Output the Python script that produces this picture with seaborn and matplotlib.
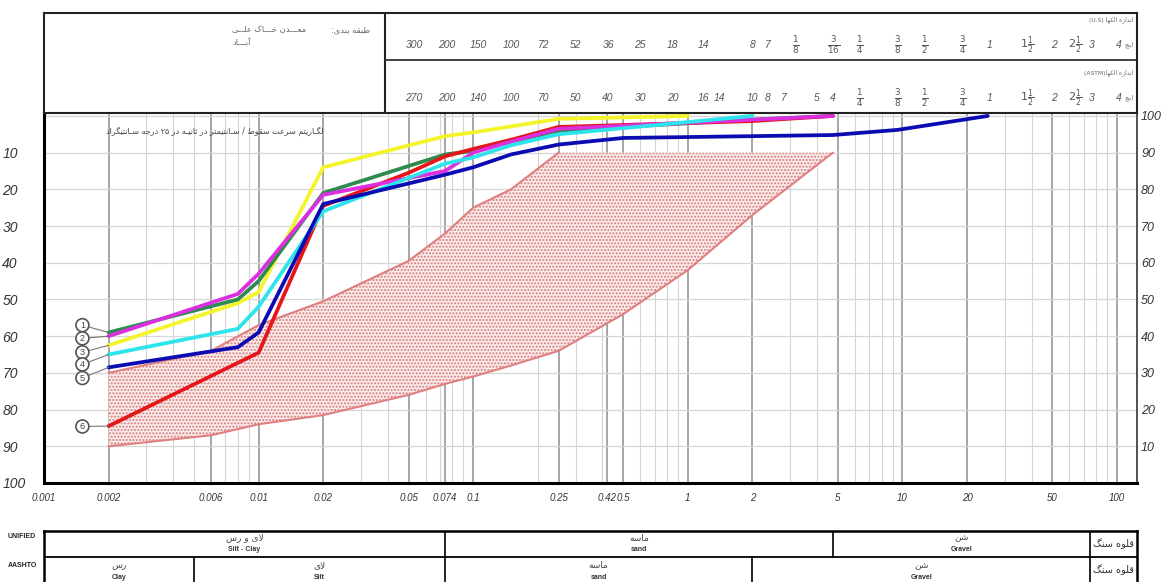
import re
import numpy as np
import pandas as pd
import matplotlib
matplotlib.use('Agg')
import matplotlib.pyplot as plt
from matplotlib.ticker import LogLocator, NullFormatter, NullLocator
import seaborn as sns

# ---------------- data ----------------
sample_ids = ['1', '2', '3', '4', '5', '6']
sample_colors = ['#2e8b4e', '#dc2fe0', '#f4f42a', '#2ee4ec', '#0b0bb2', '#e3161a']

# grain size (mm) / percent passing for each sample
s1_size = [0.002, 0.008, 0.01, 0.02, 0.074, 0.1, 0.15, 0.25, 2.0, 4.75]
s1_pass = [41, 50, 55, 79, 89.5, 90.5, 93, 96, 99, 100]
s2_size = [0.002, 0.008, 0.01, 0.02, 0.074, 0.1, 0.15, 0.25, 4.75]
s2_pass = [40, 51.5, 57, 78.5, 85, 90, 93, 96.5, 100]
s3_size = [0.002, 0.008, 0.01, 0.02, 0.074, 0.1, 0.25, 1.0]
s3_pass = [37.5, 49, 52, 86, 94.5, 95.5, 99.2, 100]
s4_size = [0.002, 0.008, 0.01, 0.02, 0.074, 0.1, 0.15, 0.25, 2.0]
s4_pass = [35, 42, 48, 74, 87, 88.7, 92, 95, 100]
s5_size = [0.002, 0.008, 0.01, 0.02, 0.074, 0.1, 0.15, 0.25, 0.5, 4.75, 9.5, 25.0]
s5_pass = [31.5, 37, 41, 76, 84, 86, 89.5, 92.2, 94, 94.8, 96.2, 100]
s6_size = [0.002, 0.01, 0.02, 0.05, 0.074, 0.1, 0.15, 0.25, 2.0, 4.75]
s6_pass = [15.5, 35.5, 75.5, 84.5, 89, 91, 93.5, 97, 98.6, 100]

# specification envelope
env_size = [0.002, 0.006, 0.01, 0.02, 0.05, 0.074, 0.1, 0.15, 0.25, 0.5, 1.0, 2.0, 4.75]
env_upper = [30, 36, 43, 49.5, 60.5, 68, 75, 80, 90, 90, 90, 90, 90]
env_lower = [10, 13, 16, 18.5, 24, 27, 29, 32, 36, 46, 58, 73, 90]

# axis ticks
xtick_vals = [0.001, 0.002, 0.006, 0.01, 0.02, 0.05, 0.074, 0.1, 0.25, 0.42, 0.5,
              1, 2, 5, 10, 20, 50, 100]
xtick_text = ['0.001', '0.002', '0.006', '0.01', '0.02', '0.05', '0.074', '0.1', '0.25',
              '0.42', '0.5', '1', '2', '5', '10', '20', '50', '100']

# sieve header rows
us_labels = ['300', '200', '150', '100', '72', '52', '36', '25', '18', '14', '8', '7',
             r'$\frac{1}{8}$', r'$\frac{3}{16}$', r'$\frac{1}{4}$', r'$\frac{3}{8}$',
             r'$\frac{1}{2}$', r'$\frac{3}{4}$', '1', r'$1\frac{1}{2}$', '2',
             r'$2\frac{1}{2}$', '3', '4']
us_sizes = [0.053, 0.075, 0.106, 0.15, 0.212, 0.3, 0.425, 0.6, 0.85, 1.18, 2.0, 2.36,
            3.175, 4.76, 6.35, 9.53, 12.7, 19.05, 25.4, 38.1, 50.8, 63.5, 76.2, 101.6]
astm_labels = ['270', '200', '140', '100', '70', '50', '40', '30', '20', '16', '14', '10',
               '8', '7', '5', '4', r'$\frac{1}{4}$', r'$\frac{3}{8}$', r'$\frac{1}{2}$',
               r'$\frac{3}{4}$', '1', r'$1\frac{1}{2}$', '2', r'$2\frac{1}{2}$', '3', '4']
astm_sizes = [0.053, 0.075, 0.106, 0.15, 0.212, 0.3, 0.425, 0.6, 0.85, 1.18, 1.4, 2.0,
              2.36, 2.8, 4.0, 4.75, 6.35, 9.53, 12.7, 19.05, 25.4, 38.1, 50.8, 63.5,
              76.2, 101.6]

# soil classification table (boundaries in mm)
unified_bounds = [0.001, 0.074, 4.75, 75, 124]
unified_fa = ['لای و رس', 'ماسه', 'شن', 'قلوه سنگ']
unified_en = ['Silt - Clay', 'sand', 'Gravel', '']
aashto_bounds = [0.001, 0.005, 0.074, 2.0, 75, 124]
aashto_fa = ['رس', 'لای', 'ماسه', 'شن', 'قلوه سنگ']
aashto_en = ['Clay', 'Silt', 'sand', 'Gravel', '']

# label circle heights (percent) on the left
circle_y = [43, 39.4, 35.6, 32.3, 28.6, 15.4]

# ---------------- persian shaping (matplotlib has no RTL shaping) ----------------
DUAL = {'ب': 0xFE8F, 'پ': 0xFB56, 'ت': 0xFE95, 'ث': 0xFE99, 'ج': 0xFE9D, 'چ': 0xFB7A,
        'ح': 0xFEA1, 'خ': 0xFEA5, 'س': 0xFEB1, 'ش': 0xFEB5, 'ص': 0xFEB9, 'ض': 0xFEBD,
        'ط': 0xFEC1, 'ظ': 0xFEC5, 'ع': 0xFEC9, 'غ': 0xFECD, 'ف': 0xFED1, 'ق': 0xFED5,
        'ک': 0xFB8E, 'گ': 0xFB92, 'ل': 0xFEDD, 'م': 0xFEE1, 'ن': 0xFEE5, 'ه': 0xFEE9,
        'ی': 0xFBFC}
RIGHT = {'ا': 0xFE8D, 'آ': 0xFE81, 'د': 0xFEA9, 'ذ': 0xFEAB, 'ر': 0xFEAD, 'ز': 0xFEAF,
         'ژ': 0xFB8A, 'و': 0xFEED}
TAT = 'ـ'


def fa(text):
    out = []
    i = 0
    n = len(text)
    while i < n:
        ch = text[i]
        prev = text[i - 1] if i > 0 else ''
        nxt = text[i + 1] if i < n - 1 else ''
        jp = prev in DUAL or prev == TAT
        if ch == 'ل' and nxt in ('ا', 'آ'):
            base = 0xFEFB if nxt == 'ا' else 0xFEF5
            out.append(chr(base + (1 if jp else 0)))
            i += 2
            continue
        if ch in DUAL or ch in RIGHT:
            jn = ch in DUAL and (nxt in DUAL or nxt in RIGHT or nxt == TAT)
            base = DUAL.get(ch, RIGHT.get(ch))
            out.append(chr(base + (1 if jp else 0) + (2 if jn else 0)))
        else:
            out.append(ch)
        i += 1
    vis = ''.join(out)[::-1]
    return re.sub(r'[0-9۰-۹]+', lambda m: m.group(0)[::-1], vis)


# ---------------- style ----------------
sns.set_theme(style='white')
plt.rcParams['font.family'] = ['Liberation Sans', 'DejaVu Sans']
plt.rcParams['mathtext.default'] = 'it'
plt.rcParams['hatch.linewidth'] = 1.0

W, H = 1162, 582
fig = plt.figure(figsize=(W / 100, H / 100), dpi=100)
XL = 44 / W
XW = (1137 - 44) / W
XMAX = 124

ax = fig.add_axes([XL, 1 - 483 / H, XW, (483 - 113) / H])
ax.set_xscale('log')
ax.set_xlim(0.001, XMAX)
ax.set_ylim(0, 100.8)
ax.set_axisbelow(True)

ax.set_xticks(xtick_vals)
ax.set_xticklabels(xtick_text)
ax.xaxis.set_minor_locator(LogLocator(base=10, subs=np.arange(2, 10)))
ax.xaxis.set_minor_formatter(NullFormatter())
ax.grid(which='major', axis='x', color='#8e8e8e', lw=1.1)
ax.grid(which='minor', axis='x', color='#d4d4d4', lw=0.8)
ax.set_yticks(range(0, 101, 10))
ax.set_yticklabels([str(100 - v) if v < 100 else '' for v in range(0, 101, 10)])
ax.grid(which='major', axis='y', color='#d6d6d6', lw=0.9)
ax.tick_params(axis='x', which='both', length=0, pad=7, labelsize=7, labelcolor='#333333')
ax.tick_params(axis='y', length=0, pad=30, labelsize=10, labelcolor='#333333')
for lab in ax.get_yticklabels():
    lab.set_horizontalalignment('left')
    lab.set_fontstyle('italic')
for lab in ax.get_xticklabels():
    lab.set_fontstyle('italic')
ax.set_xlabel('')
ax.set_ylabel('')

for side in ['left', 'bottom']:
    ax.spines[side].set_linewidth(2.2)
    ax.spines[side].set_color('black')
for side in ['right', 'top']:
    ax.spines[side].set_linewidth(1.2)
    ax.spines[side].set_color('#333333')

tw = ax.twinx()
tw.set_ylim(ax.get_ylim())
tw.set_yticks(range(10, 101, 10))
tw.set_yticklabels([str(v) for v in range(10, 101, 10)])
tw.tick_params(axis='y', length=0, pad=3, labelsize=9, labelcolor='#333333')
for lab in tw.get_yticklabels():
    lab.set_fontstyle('italic')
for s in tw.spines.values():
    s.set_visible(False)

# envelope
ax.fill_between(env_size, env_lower, env_upper, facecolor='#fbecec', edgecolor='#d67a7a',
                hatch='.....', linewidth=0, zorder=1)
ax.plot(env_size[:9], env_upper[:9], color='#e07f7f', lw=1.5, zorder=2)
ax.plot(env_size, env_lower, color='#e07f7f', lw=1.5, zorder=2)

# sample curves
frames = []
for sid, sz, pv in zip(sample_ids,
                       [s1_size, s2_size, s3_size, s4_size, s5_size, s6_size],
                       [s1_pass, s2_pass, s3_pass, s4_pass, s5_pass, s6_pass]):
    frames.append(pd.DataFrame({'size': sz, 'passing': pv, 'sample': sid}))
df = pd.concat(frames, ignore_index=True)

sns.lineplot(data=df, x='size', y='passing', hue='sample',
             hue_order=['3', '1', '6', '2', '4', '5'],
             palette=dict(zip(sample_ids, sample_colors)),
             estimator=None, sort=False, lw=2.7, legend=False, ax=ax, zorder=3)
ax.set_xlabel('')
ax.set_ylabel('')

# numbered circles
for sid, cy in zip(sample_ids, circle_y):
    first = df[df['sample'] == sid].iloc[0]
    ax.annotate(sid, xy=(first['size'], first['passing']), xytext=(0.00151, cy),
                ha='center', va='center', fontsize=6.5, color='#444444', zorder=5,
                bbox=dict(boxstyle='circle,pad=0.22', fc='white', ec='#555555', lw=1.2),
                arrowprops=dict(arrowstyle='-', color='#777777', lw=0.8,
                                shrinkA=0, shrinkB=0))

ax.text(0.156, 0.951,
        fa('لگـاریتم سرعت سقوط / سـانتیمتر در ثانیـه در ۲۵ درجه سـانتیگراد'),
        transform=ax.transAxes, ha='center', va='center', fontsize=5.8,
        color='#444444', family='DejaVu Sans')

# ---------------- header ----------------
hax = fig.add_axes([XL, 1 - 113 / H, XW, 100 / H])
hax.set_xscale('log')
hax.set_xlim(0.001, XMAX)
hax.set_ylim(0, 1)
hax.set_xticks([])
hax.set_yticks([])
hax.xaxis.set_minor_locator(NullLocator())
for s in hax.spines.values():
    s.set_linewidth(1.5)
    s.set_color('#222222')
hax.plot([0.312, 0.312], [0, 1], transform=hax.transAxes, color='#222222', lw=1.5)
hax.plot([0.312, 1], [0.53, 0.53], transform=hax.transAxes, color='#333333', lw=1.3)


def head_size(lab):
    if lab.startswith(r'$\frac'):
        return 9
    if '$' in lab:
        return 8
    return 7.5


for lab, sz in zip(us_labels, us_sizes):
    hax.text(sz, 0.68, lab, ha='center', va='center', color='#555555',
             fontsize=head_size(lab), fontstyle='italic')
for lab, sz in zip(astm_labels, astm_sizes):
    hax.text(sz, 0.15, lab, ha='center', va='center', color='#555555',
             fontsize=head_size(lab), fontstyle='italic')

hfa = dict(transform=hax.transAxes, color='#666666', family='DejaVu Sans')
hax.text(0.298, 0.83, fa('طبقه بندی:'), ha='right', va='center', fontsize=6, **hfa)
hax.text(0.172, 0.83, fa('معـــدن خـــاک علــی'), ha='left', va='center', fontsize=6, **hfa)
hax.text(0.172, 0.70, fa('آبـــاد'), ha='left', va='center', fontsize=6, **hfa)
hax.text(0.997, 0.93, '(U.S) ' + fa('اندازه الکها'), ha='right', va='center',
         fontsize=4.3, **hfa)
hax.text(0.997, 0.68, fa('اینچ'), ha='right', va='center', fontsize=4.3, **hfa)
hax.text(0.997, 0.40, '(ASTM)' + fa('اندازه الکها'), ha='right', va='center',
         fontsize=4.3, **hfa)
hax.text(0.997, 0.15, fa('اینچ'), ha='right', va='center', fontsize=4.3, **hfa)

# ---------------- classification table ----------------
tax = fig.add_axes([XL, 1 - 590 / H, XW, 59 / H])
tax.set_xscale('log')
tax.set_xlim(0.001, XMAX)
tax.set_ylim(0, 1)
tax.set_xticks([])
tax.set_yticks([])
tax.xaxis.set_minor_locator(NullLocator())
for s in tax.spines.values():
    s.set_linewidth(1.8)
    s.set_color('black')
MID = 0.559
tax.axhline(MID, color='black', lw=1.3)
for b in unified_bounds[1:-1]:
    tax.axvline(b, ymin=MID, ymax=1, color='black', lw=1.2)
for b in aashto_bounds[1:-1]:
    tax.axvline(b, ymin=0, ymax=MID, color='black', lw=1.2)

for i in range(len(unified_fa)):
    cx = np.sqrt(unified_bounds[i] * unified_bounds[i + 1])
    if unified_en[i]:
        tax.text(cx, 0.88, fa(unified_fa[i]), ha='center', va='center', fontsize=6.5,
                 color='#444444', family='DejaVu Sans')
        tax.text(cx, 0.69, unified_en[i], ha='center', va='center', fontsize=5,
                 fontweight='bold', color='#333333')
    else:
        tax.text(cx, 0.79, fa(unified_fa[i]), ha='center', va='center', fontsize=7,
                 color='#333333', family='DejaVu Sans')
for i in range(len(aashto_fa)):
    cx = np.sqrt(aashto_bounds[i] * aashto_bounds[i + 1])
    if aashto_en[i]:
        tax.text(cx, 0.41, fa(aashto_fa[i]), ha='center', va='center', fontsize=6.5,
                 color='#444444', family='DejaVu Sans')
        tax.text(cx, 0.22, aashto_en[i], ha='center', va='center', fontsize=5,
                 fontweight='bold', color='#333333')
    else:
        tax.text(cx, 0.34, fa(aashto_fa[i]), ha='center', va='center', fontsize=7,
                 color='#333333', family='DejaVu Sans')

tax.text(-0.02, 0.90, 'UNIFIED', transform=tax.transAxes, ha='center', va='center',
         fontsize=5, fontweight='bold', color='#222222')
tax.text(-0.02, 0.42, 'AASHTO', transform=tax.transAxes, ha='center', va='center',
         fontsize=5, fontweight='bold', color='#222222')

fig.savefig('out.png', dpi=100, facecolor='white')
